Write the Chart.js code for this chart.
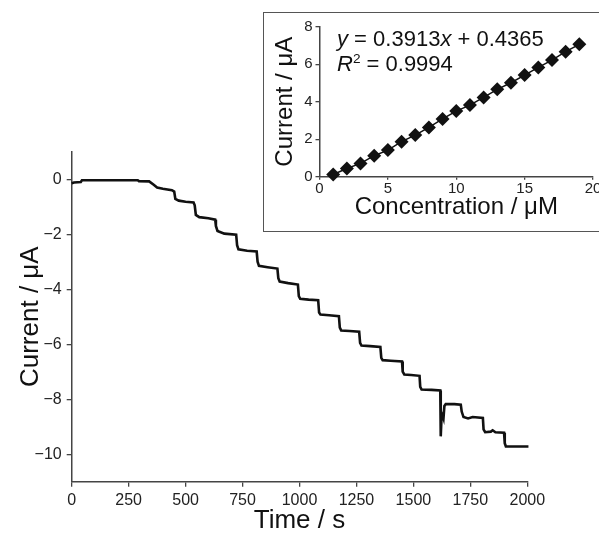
<!DOCTYPE html>
<html><head><meta charset="utf-8">
<script src="https://cdn.jsdelivr.net/npm/chart.js@4.4.1/dist/chart.umd.min.js"></script>
<style>
html,body{margin:0;padding:0;background:#fff;overflow:hidden;width:599px;height:535px;}
#main{position:absolute;left:0;top:0;}
#box{position:absolute;left:263px;top:12px;width:350px;height:220px;border:1.5px solid #555;background:#fff;box-sizing:border-box;}
#inset{position:absolute;left:263px;top:12px;}
.eq{position:absolute;font-family:'Liberation Sans',Arial,Helvetica,sans-serif;font-size:22px;color:#111;white-space:nowrap;line-height:22px;}
.eq sup{font-size:0.62em;vertical-align:0;position:relative;top:-0.6em;}
</style></head><body>
<canvas id="main" width="599" height="535"></canvas>
<div id="box"></div>
<canvas id="inset" width="346" height="220"></canvas>
<div class="eq" style="left:337px;top:28px;"><i>y</i> = 0.3913<i>x</i> + 0.4365</div>
<div class="eq" style="left:337px;top:53px;"><i>R</i><sup>2</sup> = 0.9994</div>
<script>
// ---- main amperometric trace ----
const mainTime = [0,10,40,45,290,295,340,360,375,400,440,450,455,470,500,535,540,545,560,600,630,633,640,670,722,726,732,770,812,816,822,860,903,907,913,950,993,997,1003,1040,1082,1086,1092,1130,1173,1177,1183,1220,1262,1266,1272,1310,1355,1359,1365,1400,1450,1453,1460,1490,1527,1530,1536,1580,1618,1620,1623,1628,1632,1636,1642,1680,1708,1712,1720,1740,1760,1805,1808,1815,1840,1848,1860,1898,1901,1906,1950,2005];
const mainCurrent = [-0.15,-0.12,-0.1,-0.04,-0.04,-0.07,-0.08,-0.2,-0.3,-0.35,-0.4,-0.45,-0.72,-0.78,-0.82,-0.85,-0.95,-1.3,-1.38,-1.42,-1.47,-1.7,-1.88,-1.98,-2.02,-2.4,-2.55,-2.6,-2.63,-3.0,-3.15,-3.2,-3.25,-3.6,-3.72,-3.78,-3.83,-4.25,-4.35,-4.38,-4.4,-4.85,-4.92,-4.95,-4.98,-5.4,-5.5,-5.52,-5.55,-5.95,-6.05,-6.07,-6.1,-6.5,-6.58,-6.6,-6.63,-7.0,-7.1,-7.12,-7.15,-7.55,-7.65,-7.66,-7.68,-9.35,-8.75,-8.6,-8.7,-8.25,-8.18,-8.18,-8.2,-8.45,-8.65,-8.7,-8.65,-8.68,-9.1,-9.2,-9.18,-9.13,-9.2,-9.22,-9.6,-9.72,-9.72,-9.72];
const mainXTicks = [0,250,500,750,1000,1250,1500,1750,2000];
const mainYTicks = [0,-2,-4,-6,-8,-10];
// ---- inset calibration ----
const insetConc = [1,2,3,4,5,6,7,8,9,10,11,12,13,14,15,16,17,18,19];
const insetCurrent = [0.12,0.44,0.71,1.12,1.42,1.87,2.22,2.63,3.08,3.50,3.82,4.23,4.66,5.01,5.42,5.83,6.22,6.67,7.06];
const insetXTicks = [0,5,10,15,20];
const insetYTicks = [0,2,4,6,8];

const FONT = "'Liberation Sans', Arial, Helvetica, sans-serif";
const fmt = v => String(v).replace('-', '\u2212');
const AX = '#444';

function axis(opts){
  return {
    type:'linear', min:opts.min, max:opts.max,
    afterBuildTicks: s => { s.ticks = opts.ticks.map(v => ({value:v})); },
    afterFit: s => { if (opts.w !== undefined) s.width = opts.w; if (opts.h !== undefined) s.height = opts.h; },
    grid:{drawOnChartArea:false, drawTicks:true, tickLength:opts.tl, color:AX, lineWidth:1.3},
    border:{display:true, color:AX, width:1.5},
    ticks:{font:{family:FONT,size:opts.fs}, color:'#222', padding:opts.pad, maxRotation:0, autoSkip:false, callback:v=>fmt(v)},
    title:{display:true, text:opts.title, font:{family:FONT,size:opts.tfs}, color:'#111', padding:opts.tpad}
  };
}

new Chart(document.getElementById('main'), {
  type:'scatter',
  data:{datasets:[{data: mainTime.map((t,i)=>({x:t,y:mainCurrent[i]})), showLine:true, borderColor:'#111', borderWidth:2.6, pointRadius:0, tension:0, fill:false, clip:false}]},
  options:{
    responsive:false, animation:false, devicePixelRatio:1,
    layout:{padding:{top:151.7,right:71.7,left:0,bottom:0}},
    plugins:{legend:{display:false},tooltip:{enabled:false}},
    scales:{
      x: axis({min:0,max:2000,ticks:mainXTicks,h:53.3,tl:5,fs:16,pad:4,title:'Time / s',tfs:26,tpad:{top:0,bottom:-1}}),
      y: axis({min:-11,max:1,ticks:mainYTicks,w:71.7,tl:5,fs:16,pad:5,title:'Current / \u03bcA',tfs:26,tpad:{top:15,bottom:0}})
    }
  }
});

new Chart(document.getElementById('inset'), {
  type:'scatter',
  data:{datasets:[{data: insetConc.map((c,i)=>({x:c,y:insetCurrent[i]})), showLine:true, borderColor:'#111', borderWidth:1.5, pointStyle:'rectRot', pointRadius:7, pointBackgroundColor:'#111', pointBorderColor:'#111', pointBorderWidth:0, clip:false}]},
  options:{
    responsive:false, animation:false, devicePixelRatio:1,
    layout:{padding:{top:14.7,right:16,left:0,bottom:0}},
    plugins:{legend:{display:false},tooltip:{enabled:false}},
    scales:{
      x: axis({min:0,max:20,ticks:insetXTicks,h:55.3,tl:3,fs:15,pad:0,title:'Concentration / \u03bcM',tfs:24,tpad:{top:0,bottom:10}}),
      y: axis({min:0,max:8,ticks:insetYTicks,w:56.5,tl:4,fs:15,pad:3,title:'Current / \u03bcA',tfs:24,tpad:{top:8,bottom:0}})
    }
  }
});
</script>
</body></html>
